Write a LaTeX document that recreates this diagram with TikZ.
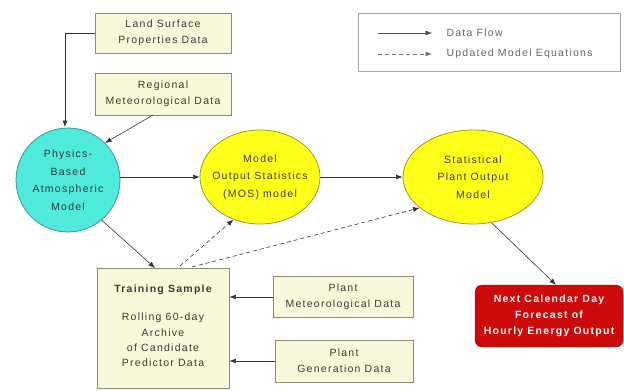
\documentclass[tikz,border=0pt]{standalone}
\usepackage{fontspec}
\setmainfont[LetterSpace=12]{Liberation Sans}
\usetikzlibrary{arrows.meta,shapes.geometric}
\definecolor{boxfill}{HTML}{FAF8DA}
\definecolor{boxline}{HTML}{8A8A7A}
\definecolor{cyanfill}{HTML}{4FEADB}
\definecolor{cyanline}{HTML}{3A9A90}
\definecolor{yelfill}{HTML}{FFFF1A}
\definecolor{yelline}{HTML}{9A9A30}
\definecolor{redfill}{HTML}{CC0A0A}
\definecolor{txt}{HTML}{3A3A3A}
\begin{document}
\begin{tikzpicture}[x=1pt,y=-1pt,
  every node/.style={font=\fontsize{10.5}{16}\selectfont, text=txt, align=center},
  ballfont/.style={font=\fontsize{10.5}{17.5}\selectfont},
  databox/.style={draw=boxline, fill=boxfill, line width=0.8pt, inner sep=2pt},
  cyanball/.style={circle, draw=cyanline, fill=cyanfill, line width=0.8pt, minimum size=104pt, inner sep=0pt, ballfont},
  yelball/.style={ellipse, draw=yelline, fill=yelfill, line width=0.8pt, inner sep=0pt},
  flow/.style={draw=black!80, line width=0.6pt, -{Latex[length=6.5pt,width=5pt]}},
  upd/.style={flow, dashed, dash pattern=on 4pt off 3pt}]
\useasboundingbox (0,0) rectangle (624,391);
% data boxes
\node[databox, minimum width=136pt, minimum height=40pt] (land) at (163,33) {Land Surface\\Properties Data};
\node[databox, minimum width=136pt, minimum height=42pt] (reg) at (163,94) {Regional\\Meteorological Data};
\node[databox, minimum width=140pt, minimum height=41pt] (pmet) at (343,297) {Plant\\Meteorological Data};
\node[databox, minimum width=138pt, minimum height=42pt] (pgen) at (344,361) {Plant\\Generation Data};
\node[databox, minimum width=132pt, minimum height=120pt] (train) at (163,328) {};
\node[font=\bfseries\fontsize{10.5}{16}\selectfont] (trt) at (163,290) {Training Sample};
\node[font=\fontsize{10.5}{15.3}\selectfont] (trb) at (163,340) {Rolling 60-day\\Archive\\of Candidate\\Predictor Data};
% models
\node[cyanball] (phys) at (68,180) {Physics-\\Based\\Atmospheric\\Model};
\node[yelball, minimum width=120pt, minimum height=94pt] (mos) at (260,177) {};
\node[ballfont] (mostxt) at (mos.center) {Model\\Output Statistics\\(MOS) model};
\node[yelball, minimum width=140pt, minimum height=94pt] (stat) at (473,177) {};
\node[ballfont] (stattxt) at (stat.center) {Statistical\\Plant Output\\Model};
\node[draw=redfill!70!black, fill=redfill, rounded corners=7pt, minimum width=148pt, minimum height=62pt, text=white, font=\bfseries\fontsize{10.5}{16}\selectfont] (out) at (549,316) {Next Calendar Day\\Forecast of\\Hourly Energy Output};
% legend
\node[draw=black!35, line width=0.6pt, minimum width=262pt, minimum height=58pt] (leg) at (489,42) {};
\coordinate (l1a) at (378,33); \coordinate (l1b) at (432,33);
\coordinate (l2a) at (378,54); \coordinate (l2b) at (432,54);
\draw[flow, draw=black!70] (l1a) -- (l1b);
\draw[upd, draw=black!55] (l2a) -- (l2b);
\node[anchor=west, text=black!60] (lt1) at (443,33) {Data Flow};
\node[anchor=west, text=black!60] (lt2) at (443,54) {Updated Model Equations};
% connectors
\draw[flow] (land.west) -- (65,33) -- (65,127);
\draw[flow] (153,115) -- (phys.45);
\draw[flow] (phys.east |- mos.west) -- (mos.west);
\draw[flow] (mos.east) -- (stat.west);
\draw[flow] (phys.-50) -- (155,268);
\draw[upd] (180,266) -- (mos.-122);
\draw[upd] (192,267) -- (stat.-150);
\draw[flow] (stat.-68) -- (out.north -| 556,0);
\draw[flow] (pmet.west) -- (train.east |- pmet.west);
\draw[flow] (pgen.west) -- (train.east |- pgen.west);
\end{tikzpicture}
\end{document}
